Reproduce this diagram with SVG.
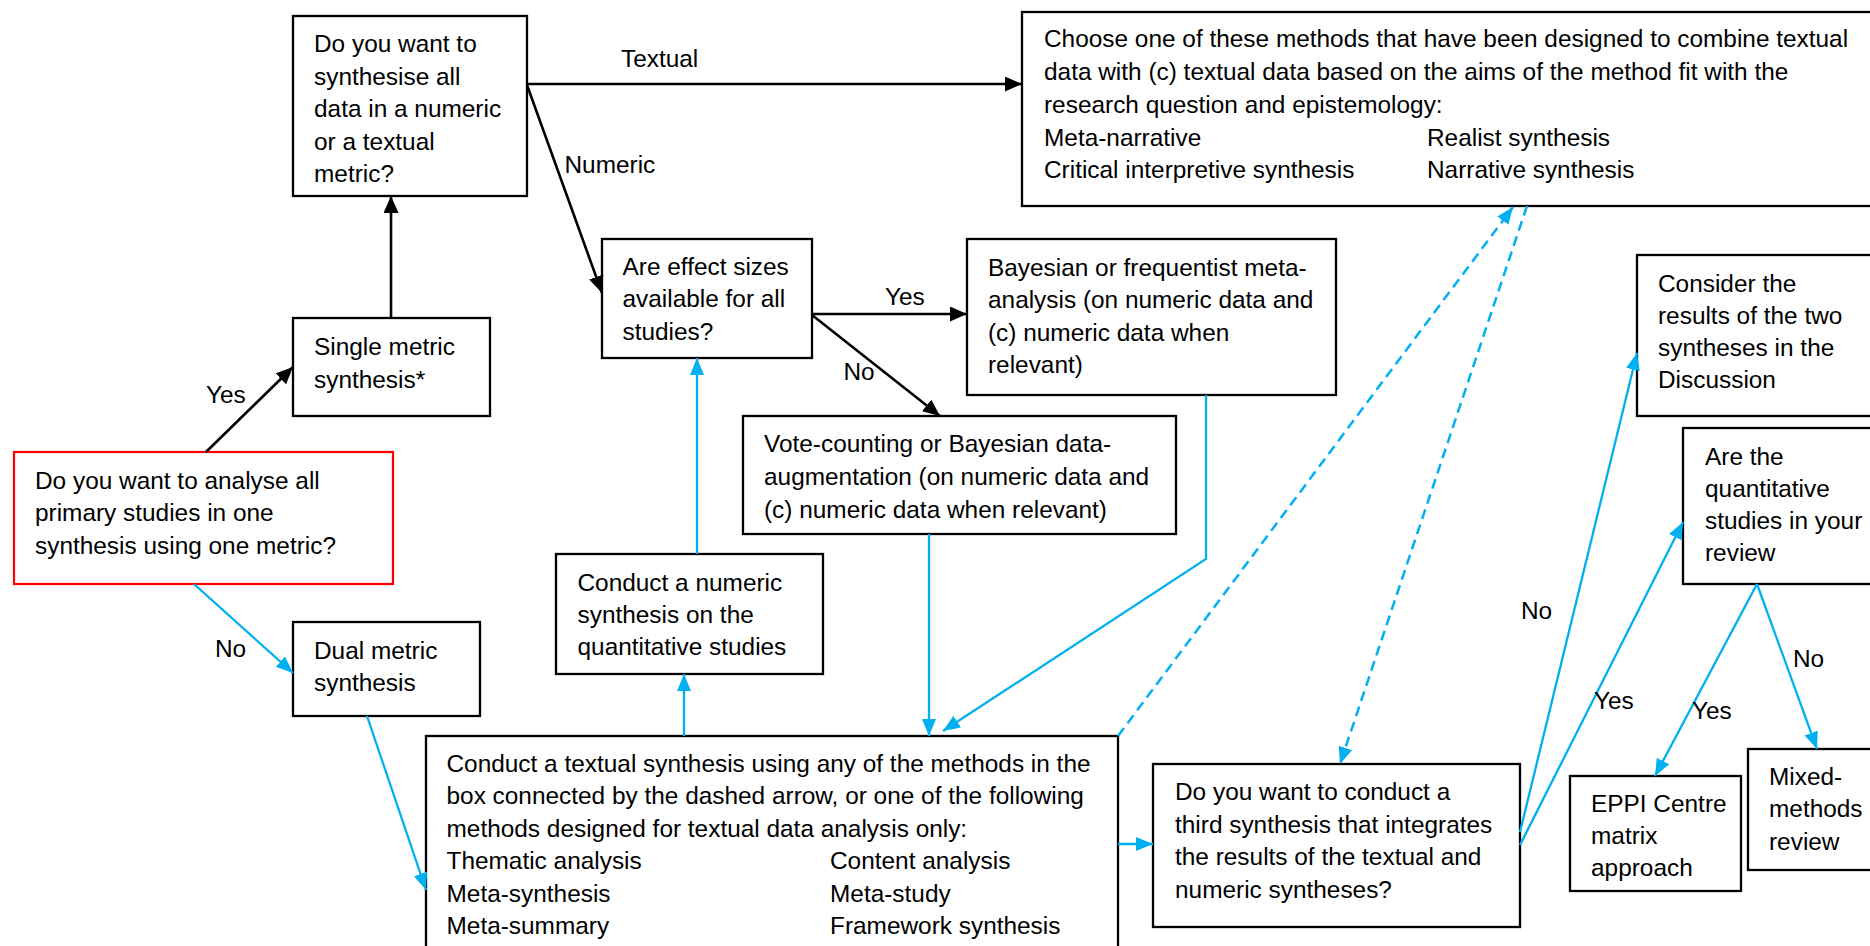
<svg xmlns="http://www.w3.org/2000/svg" width="1870" height="946" viewBox="0 0 1870 946">
<defs>
<marker id="ab" markerUnits="userSpaceOnUse" markerWidth="18" markerHeight="16" refX="17" refY="7.5" orient="auto"><path d="M0,0 L17,7.5 L0,15 z" fill="#000"/></marker>
<marker id="au" markerUnits="userSpaceOnUse" markerWidth="18" markerHeight="16" refX="17" refY="7" orient="auto"><path d="M0,0 L17,7 L0,14 z" fill="#00B0F0"/></marker>
</defs>
<style>
.box{fill:#fff;stroke:#000;stroke-width:2.3}
.red{fill:#fff;stroke:#ff0000;stroke-width:2.2}
text{font-family:"Liberation Sans",Arial,sans-serif;font-size:24.4px;fill:#000}
.k{stroke:#000;stroke-width:2.6;fill:none;marker-end:url(#ab)}
.b{stroke:#00B0F0;stroke-width:2.3;fill:none;marker-end:url(#au)}
.d{stroke:#00B0F0;stroke-width:2.5;fill:none;stroke-dasharray:10 6;marker-end:url(#au)}
</style>
<rect width="1870" height="946" fill="#fff"/>

<g id="n-start">
<rect class="red" x="14" y="452" width="379" height="132"/>
<text x="35"><tspan x="35" y="488.5">Do you want to analyse all</tspan><tspan x="35" y="521">primary studies in one</tspan><tspan x="35" y="553.5">synthesis using one metric?</tspan></text>
</g>
<g id="n-single">
<rect class="box" x="293" y="318" width="197" height="98"/>
<text><tspan x="314" y="355">Single metric</tspan><tspan x="314" y="388">synthesis*</tspan></text>
</g>
<g id="n-metric">
<rect class="box" x="293" y="16" width="234" height="180"/>
<text><tspan x="314" y="52">Do you want to</tspan><tspan x="314" y="84.5">synthesise all</tspan><tspan x="314" y="117">data in a numeric</tspan><tspan x="314" y="149.5">or a textual</tspan><tspan x="314" y="182">metric?</tspan></text>
</g>
<g id="n-dual">
<rect class="box" x="293" y="622" width="187" height="94"/>
<text><tspan x="314" y="658.5">Dual metric</tspan><tspan x="314" y="690.5">synthesis</tspan></text>
</g>
<g id="n-effect">
<rect class="box" x="602" y="239" width="210" height="119"/>
<text><tspan x="622.5" y="274.5">Are effect sizes</tspan><tspan x="622.5" y="307">available for all</tspan><tspan x="622.5" y="339.5">studies?</tspan></text>
</g>
<g id="n-bayes">
<rect class="box" x="967" y="239" width="369" height="156"/>
<text><tspan x="988" y="275.5">Bayesian or frequentist meta-</tspan><tspan x="988" y="308">analysis (on numeric data and</tspan><tspan x="988" y="340.5">(c) numeric data when</tspan><tspan x="988" y="372.5">relevant)</tspan></text>
</g>
<g id="n-vote">
<rect class="box" x="743" y="416" width="433" height="118"/>
<text><tspan x="764" y="452">Vote-counting or Bayesian data-</tspan><tspan x="764" y="485">augmentation (on numeric data and</tspan><tspan x="764" y="517.5">(c) numeric data when relevant)</tspan></text>
</g>
<g id="n-numsyn">
<rect class="box" x="556" y="554" width="267" height="120"/>
<text><tspan x="577.5" y="590.7">Conduct a numeric</tspan><tspan x="577.5" y="623">synthesis on the</tspan><tspan x="577.5" y="655">quantitative studies</tspan></text>
</g>
<g id="n-textual">
<rect class="box" x="426" y="736" width="692" height="230"/>
<text><tspan x="446.5" y="771.7">Conduct a textual synthesis using any of the methods in the</tspan><tspan x="446.5" y="804">box connected by the dashed arrow, or one of the following</tspan><tspan x="446.5" y="836.5">methods designed for textual data analysis only:</tspan><tspan x="446.5" y="869">Thematic analysis</tspan><tspan x="446.5" y="901.5">Meta-synthesis</tspan><tspan x="446.5" y="934">Meta-summary</tspan></text>
<text><tspan x="830" y="869">Content analysis</tspan><tspan x="830" y="901.5">Meta-study</tspan><tspan x="830" y="934">Framework synthesis</tspan></text>
</g>
<g id="n-choose">
<rect class="box" x="1022" y="12" width="870" height="194"/>
<text><tspan x="1044" y="47">Choose one of these methods that have been designed to combine textual</tspan><tspan x="1044" y="80">data with (c) textual data based on the aims of the method fit with the</tspan><tspan x="1044" y="112.5">research question and epistemology:</tspan><tspan x="1044" y="145.5">Meta-narrative</tspan><tspan x="1044" y="178">Critical interpretive synthesis</tspan></text>
<text><tspan x="1427" y="145.5">Realist synthesis</tspan><tspan x="1427" y="178">Narrative synthesis</tspan></text>
</g>
<g id="n-third">
<rect class="box" x="1153" y="764" width="367" height="163"/>
<text><tspan x="1175" y="800">Do you want to conduct a</tspan><tspan x="1175" y="832.5">third synthesis that integrates</tspan><tspan x="1175" y="865">the results of the textual and</tspan><tspan x="1175" y="897.5">numeric syntheses?</tspan></text>
</g>
<g id="n-consider">
<rect class="box" x="1637" y="255" width="250" height="161"/>
<text><tspan x="1658" y="291.7">Consider the</tspan><tspan x="1658" y="323.5">results of the two</tspan><tspan x="1658" y="356">syntheses in the</tspan><tspan x="1658" y="388.3">Discussion</tspan></text>
</g>
<g id="n-quant">
<rect class="box" x="1683" y="428" width="200" height="156"/>
<text><tspan x="1705" y="465">Are the</tspan><tspan x="1705" y="497">quantitative</tspan><tspan x="1705" y="529">studies in your</tspan><tspan x="1705" y="561">review</tspan></text>
</g>
<g id="n-eppi">
<rect class="box" x="1570" y="776" width="171" height="115"/>
<text><tspan x="1591" y="811.7">EPPI Centre</tspan><tspan x="1591" y="843.5">matrix</tspan><tspan x="1591" y="876">approach</tspan></text>
</g>
<g id="n-mixed">
<rect class="box" x="1748" y="749" width="140" height="121"/>
<text><tspan x="1769" y="785">Mixed-</tspan><tspan x="1769" y="817">methods</tspan><tspan x="1769" y="849.5">review</tspan></text>
</g>

<g id="connectors">
<line class="k" x1="391" y1="318" x2="391" y2="196"/>
<line class="k" x1="206" y1="452" x2="293" y2="367"/>
<line class="k" x1="527" y1="84" x2="1022" y2="84"/>
<line class="k" x1="527" y1="85" x2="602" y2="293"/>
<line class="k" x1="812" y1="314" x2="967" y2="314"/>
<line class="k" x1="812" y1="315" x2="940" y2="416"/>
<line class="b" x1="194" y1="584" x2="293" y2="673"/>
<line class="b" x1="367" y1="716" x2="426" y2="890"/>
<line class="b" x1="684" y1="736" x2="684" y2="674"/>
<line class="b" x1="697" y1="554" x2="697" y2="358"/>
<line class="b" x1="929" y1="534" x2="929" y2="736"/>
<polyline class="b" points="1206,395 1206,559 943,731"/>
<line class="b" x1="1118" y1="844" x2="1153" y2="844"/>
<line class="b" x1="1520" y1="832" x2="1637" y2="353"/>
<line class="b" x1="1520" y1="845" x2="1683" y2="522"/>
<line class="b" x1="1757" y1="584" x2="1655" y2="776"/>
<line class="b" x1="1757" y1="584" x2="1817" y2="749"/>
<line class="d" x1="1118" y1="736" x2="1513" y2="207"/>
<line class="d" x1="1527" y1="206" x2="1340" y2="764"/>
</g>

<g id="labels">
<text x="206" y="403">Yes</text>
<text x="215" y="657">No</text>
<text x="621" y="67">Textual</text>
<text x="564.5" y="173">Numeric</text>
<text x="885" y="305">Yes</text>
<text x="843.5" y="380">No</text>
<text x="1521" y="619">No</text>
<text x="1594" y="709">Yes</text>
<text x="1692" y="719">Yes</text>
<text x="1793" y="667">No</text>
</g>
</svg>
